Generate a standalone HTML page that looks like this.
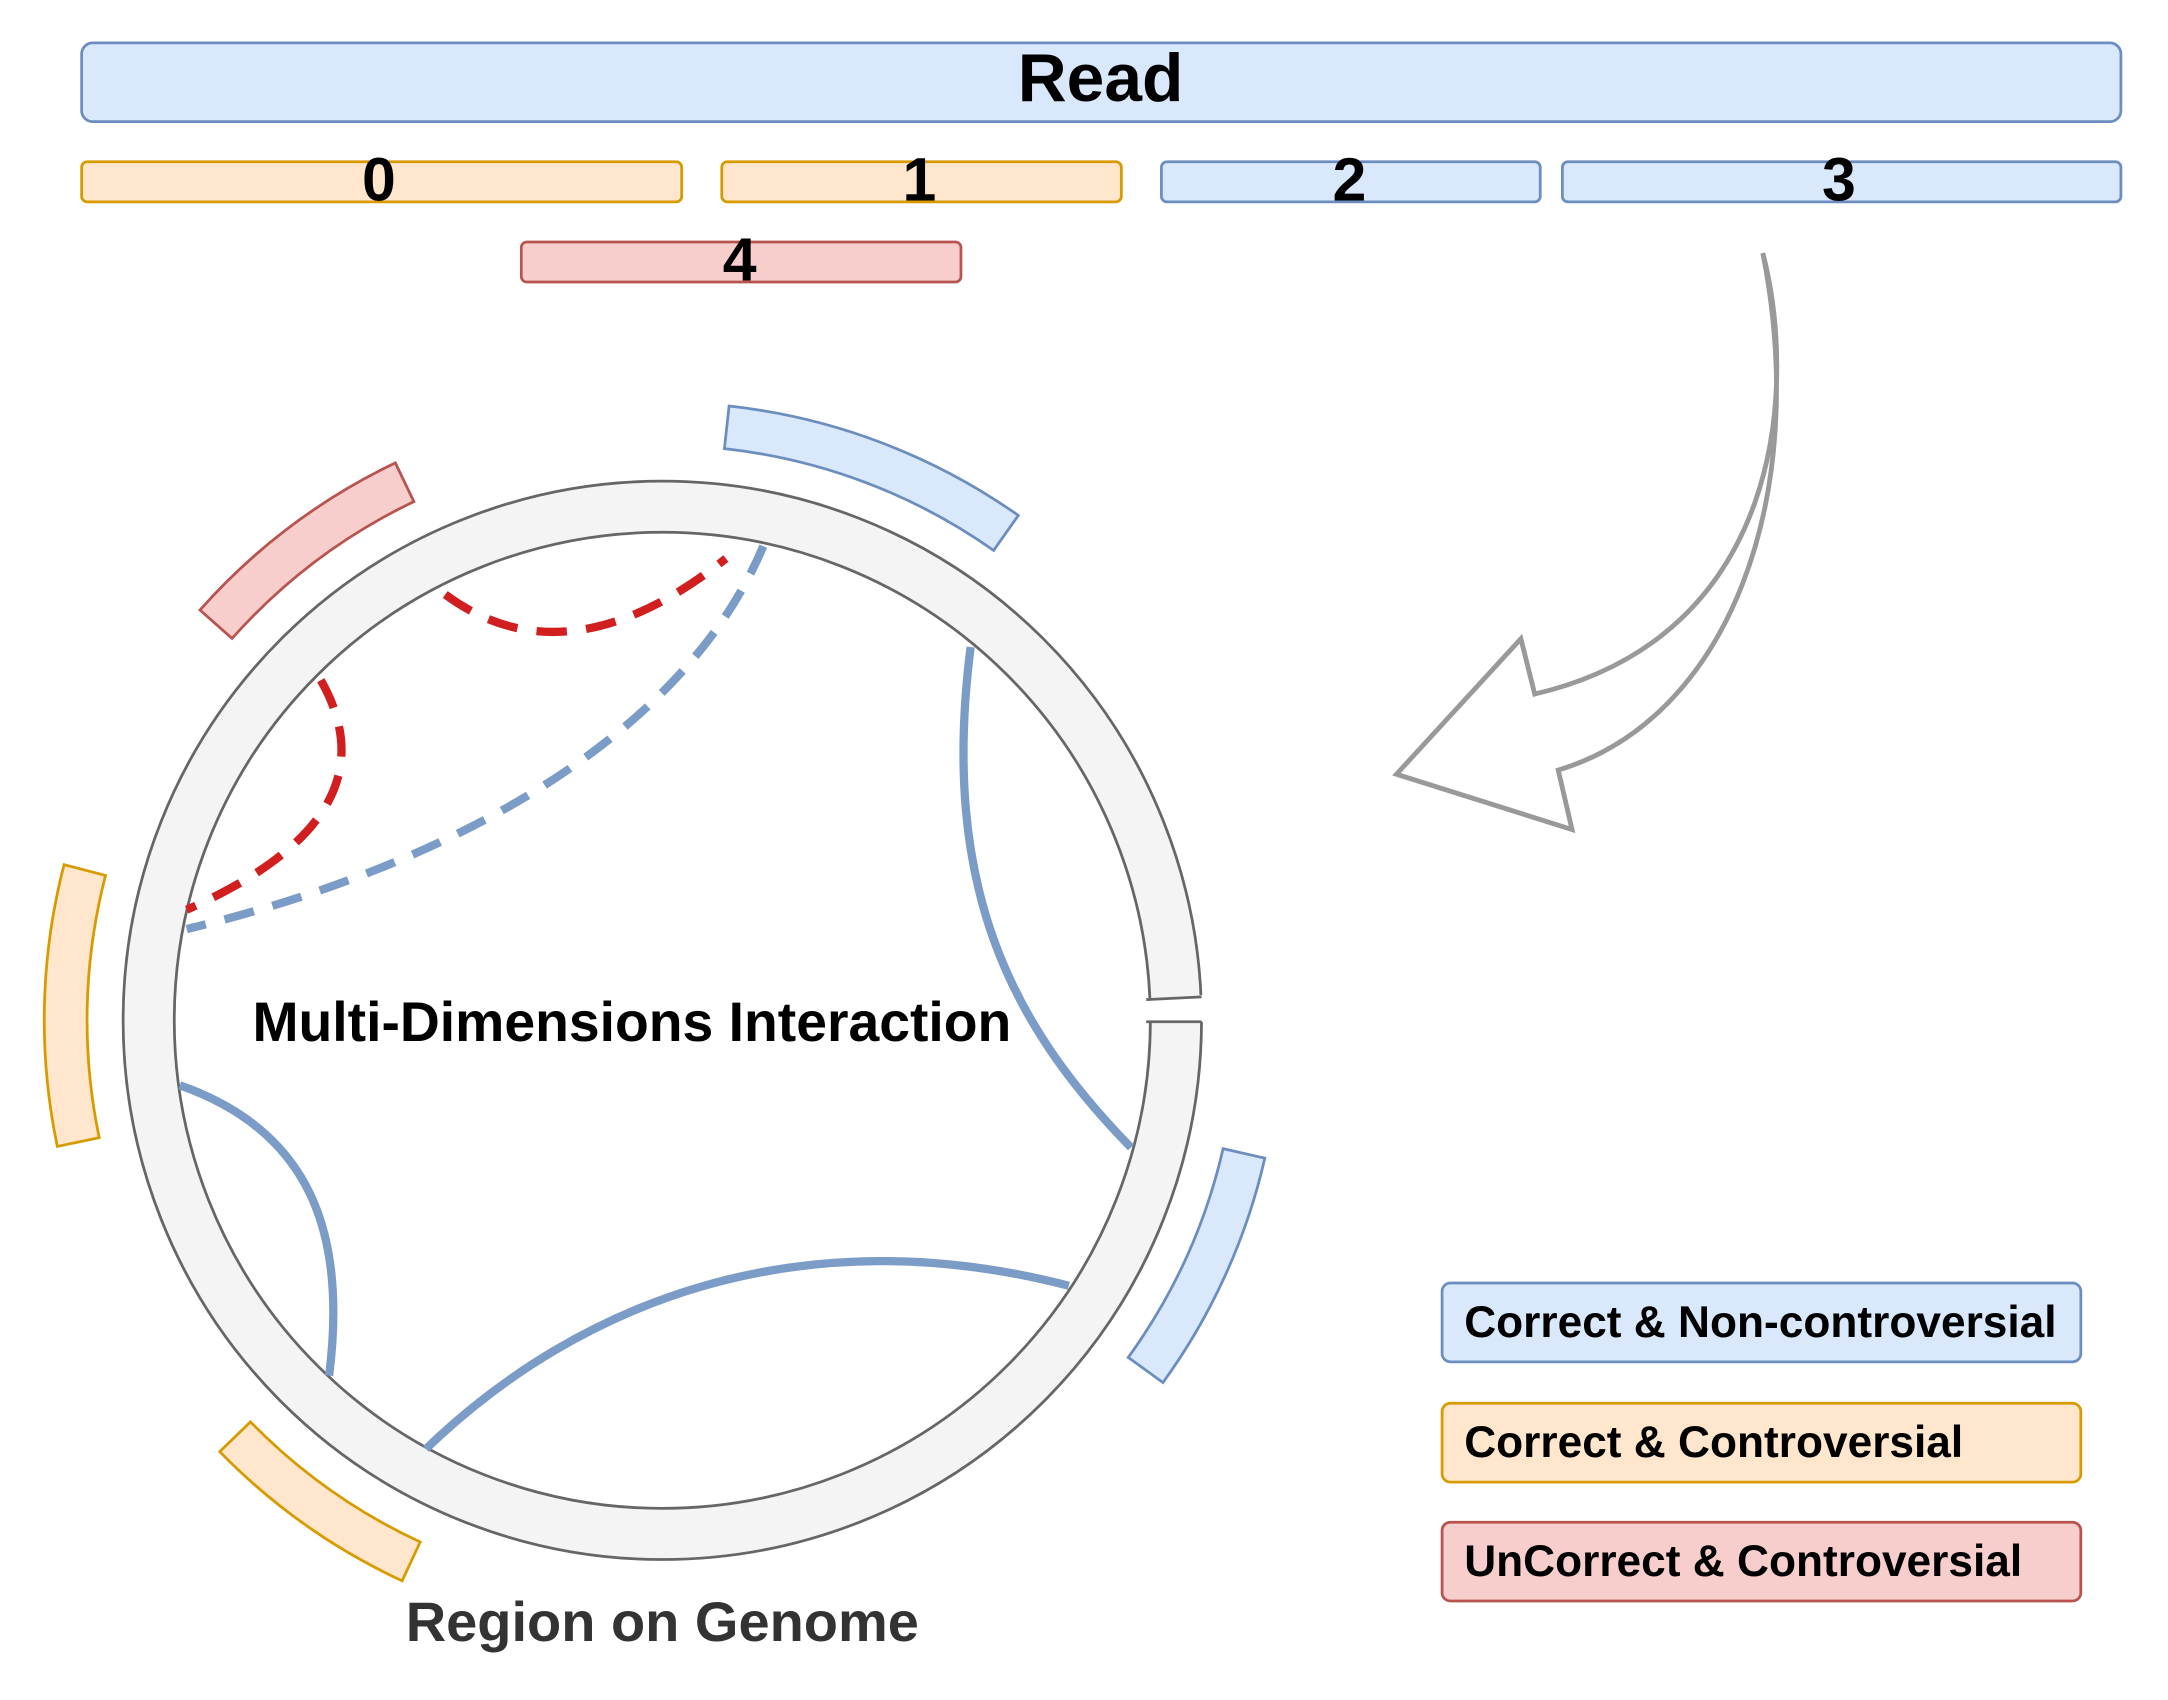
<!DOCTYPE html>
<html><head><meta charset="utf-8"><style>
html,body{margin:0;padding:0;background:#fff;}
svg{display:block;}
text{font-family:"Liberation Sans",Arial,sans-serif;font-weight:bold;}
</style></head><body>
<svg width="2168" height="1700" viewBox="0 0 1568 1229.6" xmlns="http://www.w3.org/2000/svg">
<rect width="1568" height="1230" fill="#fff"/>
<!-- top bars -->
<rect x="59" y="31" width="1475" height="57" rx="8" fill="#dae8fc" stroke="#6c8ebf" stroke-width="2"/>
<text x="796" y="73" font-size="49" text-anchor="middle" fill="#000">Read</text>
<rect x="59" y="117" width="434" height="29" rx="4" fill="#ffe6cc" stroke="#d79b00" stroke-width="2"/>
<rect x="522" y="117" width="289" height="29" rx="4" fill="#ffe6cc" stroke="#d79b00" stroke-width="2"/>
<rect x="840" y="117" width="274" height="29" rx="4" fill="#dae8fc" stroke="#6c8ebf" stroke-width="2"/>
<rect x="1130" y="117" width="404" height="29" rx="4" fill="#dae8fc" stroke="#6c8ebf" stroke-width="2"/>
<rect x="377" y="175" width="318" height="29" rx="4" fill="#f8cecc" stroke="#b85450" stroke-width="2"/>
<g font-size="44" text-anchor="middle" fill="#000">
<text x="274" y="145">0</text><text x="665" y="145">1</text><text x="976" y="145">2</text><text x="1330" y="145">3</text><text x="535" y="203">4</text>
</g>
<!-- ring -->
<circle cx="479" cy="738" r="371.5" fill="none" stroke="#f4f4f4" stroke-width="37"/>
<circle cx="479" cy="738" r="390" fill="none" stroke="#666" stroke-width="2"/>
<circle cx="479" cy="738" r="353" fill="none" stroke="#666" stroke-width="2"/>
<polygon points="818,723 880,719 880,739 818,739" fill="#fff"/>
<line x1="829" y1="723" x2="869" y2="721" stroke="#666" stroke-width="2"/>
<line x1="829" y1="739" x2="869" y2="739" stroke="#666" stroke-width="2"/>
<!-- sectors -->
<path d="M736.5,372.8 A447,447 0 0 0 527.3,293.7 L523.9,324.5 A416,416 0 0 1 718.6,398.1 Z" fill="#dae8fc" stroke="#6c8ebf" stroke-width="2"/>
<path d="M285.9,334.8 A447,447 0 0 0 144.6,441.2 L167.8,461.8 A416,416 0 0 1 299.3,362.8 Z" fill="#f8cecc" stroke="#b85450" stroke-width="2"/>
<path d="M46.3,625.4 A447,447 0 0 0 41.4,829.2 L71.7,822.9 A416,416 0 0 1 76.3,633.2 Z" fill="#ffe6cc" stroke="#d79b00" stroke-width="2"/>
<path d="M158.9,1050 A447,447 0 0 0 290.8,1143.4 L303.9,1115.3 A416,416 0 0 1 181.1,1028.4 Z" fill="#ffe6cc" stroke="#d79b00" stroke-width="2"/>
<path d="M841.1,1000 A447,447 0 0 0 914.8,837.7 L884.6,830.8 A416,416 0 0 1 816,981.8 Z" fill="#dae8fc" stroke="#6c8ebf" stroke-width="2"/>
<!-- connectors -->
<g fill="none" stroke-width="6">
<path d="M322,430 Q410,495 525,404" stroke="#d11f1f" stroke-dasharray="22,14"/>
<path d="M232,492 C262,545 255,605 135,658" stroke="#d11f1f" stroke-dasharray="22,14"/>
<path d="M552,395 C500,520 350,620 135,672" stroke="#7c9cc8" stroke-dasharray="22,14"/>
<path d="M702,468 C680,640 730,740 818,830" stroke="#7c9cc8"/>
<path d="M130,785 C230,820 250,900 238,995" stroke="#7c9cc8"/>
<path d="M308,1048 C420,940 580,880 773,930" stroke="#7c9cc8"/>
</g>
<!-- big arrow -->
<path d="M1275,183 C1300,280 1290,460 1110,502 L1100,462 L1010,560 L1137,600 L1127,557 C1250,520 1310,360 1275,183 Z" fill="#fff" stroke="#999" stroke-width="3.5" stroke-linejoin="miter"/>
<!-- labels -->
<text x="457" y="753" font-size="40" text-anchor="middle" fill="#000">Multi-Dimensions Interaction</text>
<text x="479" y="1187" font-size="40.5" text-anchor="middle" fill="#333">Region on Genome</text>
<!-- legend -->
<rect x="1043" y="928" width="462" height="57" rx="6" fill="#dae8fc" stroke="#6c8ebf" stroke-width="2"/>
<rect x="1043" y="1015" width="462" height="57" rx="6" fill="#ffe6cc" stroke="#d79b00" stroke-width="2"/>
<rect x="1043" y="1101" width="462" height="57" rx="6" fill="#f8cecc" stroke="#b85450" stroke-width="2"/>
<g font-size="32" fill="#000">
<text x="1059" y="967">Correct &amp; Non-controversial</text>
<text x="1059" y="1054">Correct &amp; Controversial</text>
<text x="1059" y="1140">UnCorrect &amp; Controversial</text>
</g>
</svg>
</body></html>
